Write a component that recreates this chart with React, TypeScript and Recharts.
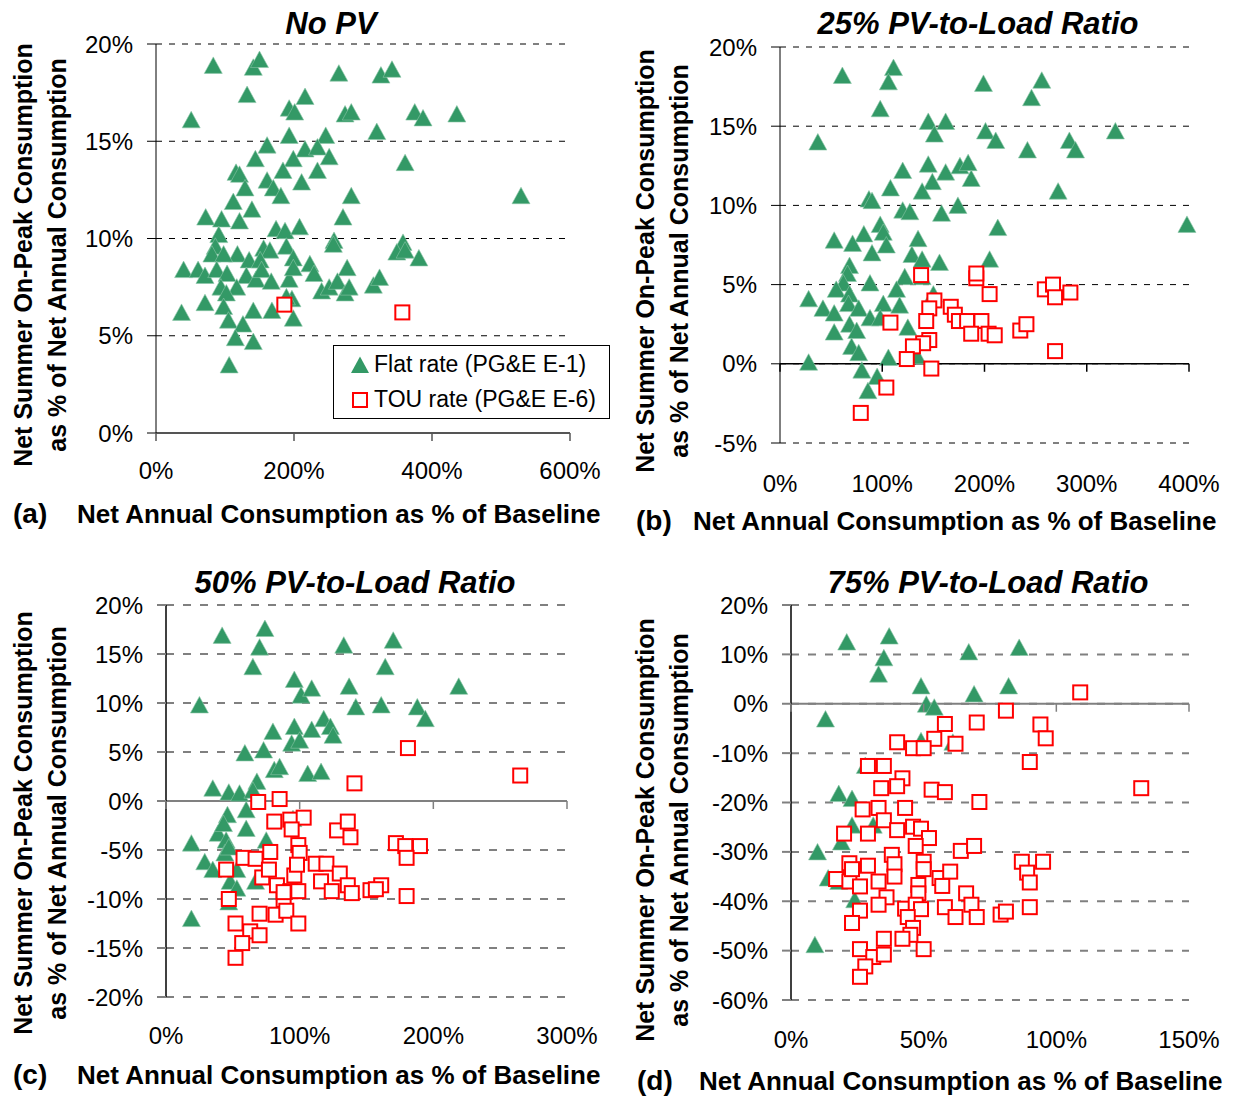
import React from "react";
import {
  ScatterChart,
  Scatter,
  XAxis,
  YAxis,
  CartesianGrid,
  ReferenceLine,
  Legend,
} from "recharts";

const FONT = '"Liberation Sans", Arial, Helvetica, sans-serif';
const FLAT_COLOR = "#339966";
const TOU_COLOR = "#FF0000";
const FLAT_NAME = "Flat rate (PG&E E-1)";
const TOU_NAME = "TOU rate (PG&E E-6)";

type Pt = [number, number];

// [net annual consumption % of baseline, on-peak share %]
const NO_PV_FLAT: Pt[] = [
  [83, 18.9], [141, 18.8], [150, 19.2], [265, 18.5], [132, 17.4], [193, 16.7], [216, 17.3],
  [201, 16.5], [274, 16.4], [283, 16.5], [51, 16.1], [193, 15.3], [246, 15.3], [161, 14.8],
  [216, 14.6], [234, 14.7], [251, 14.2], [144, 14.1], [199, 14.1], [116, 13.4], [121, 13.3],
  [184, 13.5], [234, 13.5], [129, 12.6], [161, 13.0], [170, 12.6], [181, 12.2], [211, 12.9],
  [283, 12.2], [112, 11.9], [139, 11.5], [72, 11.1], [95, 11.0], [121, 10.9], [271, 11.1],
  [174, 10.5], [187, 10.4], [208, 10.6], [91, 10.2], [258, 9.9], [257, 9.7], [86, 9.6],
  [156, 9.5], [165, 9.4], [189, 9.6], [81, 9.2], [118, 9.2], [98, 9.2], [135, 8.9], [151, 8.9],
  [199, 9.0], [40, 8.4], [61, 8.4], [71, 8.1], [88, 8.4], [103, 8.2], [131, 8.1], [145, 7.9],
  [153, 8.4], [167, 7.8], [193, 7.9], [199, 8.5], [223, 8.7], [229, 8.2], [240, 7.3], [251, 7.5],
  [263, 7.8], [274, 7.2], [280, 7.5], [277, 8.5], [94, 7.5], [117, 7.5], [102, 7.2], [37, 6.2],
  [71, 6.7], [98, 6.5], [141, 6.3], [168, 6.3], [197, 6.9], [199, 5.9], [105, 5.8], [126, 5.6],
  [115, 4.9], [141, 4.7], [106, 3.5], [189, 7.0], [326, 18.4], [342, 18.7], [375, 16.5],
  [387, 16.2], [436, 16.4], [320, 15.5], [361, 13.9], [529, 12.2], [358, 9.8], [349, 9.3],
  [361, 9.4], [381, 9.0], [315, 7.6], [324, 8.0],
];
const NO_PV_TOU: Pt[] = [[186, 6.6], [357, 6.2]];

const PV25_FLAT: Pt[] = [
  [61, 18.2], [111, 18.7], [106, 17.8], [98, 16.1], [37, 14.0], [199, 17.7], [145, 15.3],
  [151, 14.5], [162, 15.3], [201, 14.7], [120, 12.2], [145, 12.6], [149, 11.5], [139, 10.9],
  [108, 11.1], [162, 12.1], [176, 12.5], [184, 12.7], [187, 11.7], [87, 10.4], [90, 10.3],
  [120, 9.7], [127, 9.6], [158, 9.5], [174, 10.0], [98, 8.8], [101, 8.3], [104, 7.5], [82, 8.2],
  [53, 7.8], [71, 7.6], [90, 7.0], [135, 7.9], [129, 6.9], [139, 6.6], [156, 6.4], [68, 6.2],
  [66, 5.7], [62, 5.1], [88, 5.1], [122, 5.5], [114, 4.7], [139, 5.5], [55, 4.7], [68, 4.4],
  [28, 4.1], [42, 3.5], [53, 3.2], [67, 3.8], [77, 3.5], [88, 2.9], [101, 3.8], [117, 3.7],
  [150, 4.4], [68, 2.5], [75, 2.1], [53, 2.0], [98, 2.9], [125, 2.3], [70, 1.1], [77, 0.7],
  [106, 0.4], [28, 0.1], [80, -0.4], [95, -0.8], [86, -1.7], [134, 0.5], [256, 17.9], [246, 16.8],
  [211, 14.1], [242, 13.5], [283, 14.1], [289, 13.5], [328, 14.7], [272, 10.9], [213, 8.6],
  [398, 8.8], [205, 6.6],
];
const PV25_TOU: Pt[] = [
  [138, 5.6], [192, 5.4], [192, 5.7], [151, 4.0], [146, 3.5], [167, 3.6], [171, 3.1], [175, 2.7],
  [183, 2.7], [197, 2.7], [187, 1.9], [143, 2.7], [108, 2.6], [146, 1.5], [140, 1.3], [130, 1.1],
  [124, 0.3], [148, -0.3], [104, -1.5], [79, -3.1], [204, 1.9], [205, 4.4], [210, 1.8],
  [235, 2.1], [241, 2.5], [259, 4.7], [267, 5.0], [269, 4.2], [284, 4.5], [269, 0.8],
];

const PV50_FLAT: Pt[] = [
  [42, 16.9], [74, 17.6], [70, 15.7], [65, 13.7], [133, 15.9], [25, 9.8], [96, 12.4], [101, 10.8],
  [109, 11.5], [137, 11.7], [142, 9.6], [80, 7.1], [96, 7.6], [94, 5.9], [100, 6.2], [109, 7.3],
  [118, 8.4], [123, 7.6], [125, 6.7], [59, 4.9], [73, 5.2], [81, 3.2], [85, 3.5], [106, 2.8],
  [116, 3.0], [35, 1.3], [47, 0.9], [55, 0.8], [68, 2.0], [65, 1.1], [46, -1.4], [60, -0.9],
  [39, -3.3], [43, -2.3], [60, -2.8], [19, -4.3], [45, -4.0], [44, -5.3], [29, -6.2], [35, -7.0],
  [53, -7.0], [75, -4.0], [48, -8.2], [53, -8.9], [67, -8.2], [47, -10.3], [19, -12.0],
  [95, -1.8], [47, -4.7], [170, 16.4], [164, 13.7], [219, 11.7], [161, 9.8], [188, 9.6],
  [194, 8.4],
];
const PV50_TOU: Pt[] = [
  [141, 1.8], [69, -0.1], [85, 0.2], [81, -2.1], [93, -1.9], [103, -1.7], [94, -2.9], [128, -3.0],
  [136, -2.1], [138, -3.7], [99, -4.5], [100, -5.3], [78, -5.2], [58, -5.8], [67, -5.9],
  [45, -7.0], [72, -7.8], [83, -8.6], [96, -7.6], [98, -6.5], [112, -6.4], [120, -6.4],
  [116, -8.2], [130, -7.4], [136, -8.6], [139, -9.4], [124, -9.2], [93, -9.2], [99, -9.2],
  [88, -10.1], [47, -10.0], [70, -11.5], [82, -11.6], [90, -11.2], [99, -12.5], [52, -12.5],
  [63, -13.3], [70, -13.7], [57, -14.5], [52, -16.0], [153, -9.1], [77, -7.0], [88, -9.3],
  [181, 5.4], [265, 2.6], [172, -4.3], [179, -4.6], [190, -4.6], [180, -5.8], [161, -8.6],
  [157, -9.0], [180, -9.7],
];

const PV75_FLAT: Pt[] = [
  [21, 12.5], [37, 13.7], [35, 9.3], [33, 6.0], [67, 10.5], [49, 3.6], [69, 2.0], [51, -0.1],
  [54, -0.7], [13, -3.1], [49, -7.5], [61, -7.8], [28, -12.5], [18, -18.2], [23, -19.2],
  [23, -24.6], [31, -24.6], [19, -28.0], [10, -30.0], [14, -35.3], [18, -36.0], [24, -39.7],
  [9, -48.8], [86, 11.4], [82, 3.6],
];
const PV75_TOU: Pt[] = [
  [58, -4.1], [70, -3.8], [54, -7.1], [40, -7.8], [46, -9.0], [50, -9.0], [62, -8.1], [29, -12.6],
  [35, -12.6], [42, -15.1], [40, -16.7], [34, -17.1], [53, -17.4], [58, -17.9], [71, -19.9],
  [27, -21.4], [33, -21.1], [43, -21.1], [35, -23.6], [20, -26.3], [29, -26.3], [40, -25.6],
  [46, -24.9], [49, -25.3], [52, -27.2], [47, -28.8], [64, -29.8], [69, -28.8], [22, -32.3],
  [17, -35.5], [22, -36.0], [29, -32.8], [33, -36.0], [38, -30.6], [39, -32.5], [39, -35.0],
  [50, -32.0], [50, -33.5], [56, -35.3], [60, -34.0], [57, -36.9], [48, -36.7], [48, -38.4],
  [66, -38.4], [36, -39.2], [33, -40.7], [26, -41.9], [23, -44.4], [43, -41.5], [47, -40.7],
  [49, -41.6], [44, -43.2], [58, -41.2], [62, -43.2], [68, -40.7], [70, -43.2], [79, -42.7],
  [46, -45.4], [45, -46.8], [35, -47.6], [42, -47.6], [50, -49.7], [26, -49.7], [31, -51.3],
  [35, -50.8], [28, -53.2], [26, -55.3], [23, -33.5], [26, -37.0], [81, -1.4], [94, -4.2],
  [96, -7.0], [90, -11.8], [109, 2.3], [132, -17.1], [87, -32.0], [95, -32.0], [89, -34.2],
  [90, -36.2], [90, -41.2], [81, -42.1],
];

const X_TICKS_A = [0, 200, 400, 600];
const X_TICKS_B = [0, 100, 200, 300, 400];
const X_TICKS_C = [0, 100, 200, 300];
const X_TICKS_D = [0, 50, 100, 150];
const Y_TICKS_A = [0, 5, 10, 15, 20];
const Y_TICKS_B = [-5, 0, 5, 10, 15, 20];
const Y_TICKS_C = [-20, -15, -10, -5, 0, 5, 10, 15, 20];
const Y_TICKS_D = [-60, -50, -40, -30, -20, -10, 0, 10, 20];

const Y_AXIS_W = 80;
const X_AXIS_H = 40;

const toPoints = (arr: Pt[]) => arr.map(([x, y]) => ({ x, y }));

function FlatMarker(props: any) {
  const { cx, cy } = props;
  if (typeof cx !== "number" || typeof cy !== "number") return <g />;
  return (
    <polygon
      points={`${cx},${cy - 8.5} ${cx + 9},${cy + 8} ${cx - 9},${cy + 8}`}
      fill={FLAT_COLOR}
      stroke="#8cc6a8"
      strokeWidth={0.6}
    />
  );
}

function TouMarker(props: any) {
  const { cx, cy } = props;
  if (typeof cx !== "number" || typeof cy !== "number") return <g />;
  return (
    <rect x={cx - 7} y={cy - 7} width={14} height={14} fill="#fff" stroke={TOU_COLOR} strokeWidth={2} />
  );
}

function LegendBox() {
  const row: React.CSSProperties = { display: "flex", alignItems: "center", height: 35 };
  return (
    <div
      style={{
        width: 277,
        height: 74,
        boxSizing: "border-box",
        border: "1px solid #000",
        background: "#fff",
        fontFamily: FONT,
        fontSize: 23,
        color: "#000",
        paddingTop: 1,
      }}
    >
      <div style={row}>
        <svg width={20} height={20} style={{ marginLeft: 16, marginRight: 4 }}>
          <polygon points="10,1.5 19,18 1,18" fill={FLAT_COLOR} />
        </svg>
        <span>{FLAT_NAME}</span>
      </div>
      <div style={row}>
        <svg width={20} height={20} style={{ marginLeft: 16, marginRight: 4 }}>
          <rect x={3} y={3} width={14} height={14} fill="#fff" stroke={TOU_COLOR} strokeWidth={2} />
        </svg>
        <span>{TOU_NAME}</span>
      </div>
    </div>
  );
}

interface PanelProps {
  box: { x: number; y: number; w: number; h: number };
  plot: { left: number; top: number; right: number; bottom: number };
  xDomain: [number, number];
  xTicks: number[];
  yDomain: [number, number];
  yTicks: number[];
  flat: Pt[];
  tou: Pt[];
  gridColor: string;
  gridWidth: number;
  gridDash: string;
  axisWidth: number;
  zeroColor: string;
  zeroWidth: number;
  xLabelGap: number;
  legend?: boolean;
}

function Panel(p: PanelProps) {
  const { box, plot } = p;
  const plotH = plot.bottom - plot.top;
  // pixel row of the 0% line inside this chart's svg
  const zeroY = plot.top - box.y + (p.yDomain[1] / (p.yDomain[1] - p.yDomain[0])) * plotH;

  const xTick = (props: any) => {
    const { x, y, payload } = props;
    return (
      <g>
        <line x1={x} x2={x} y1={zeroY} y2={zeroY + 8} stroke={p.zeroColor} strokeWidth={1.5} />
        <text x={x} y={y} dy="0.71em" textAnchor="middle" fontSize={24} fontFamily={FONT} fill="#000">
          {`${payload.value}%`}
        </text>
      </g>
    );
  };

  return (
    <div style={{ position: "absolute", left: box.x, top: box.y }}>
      <ScatterChart
        width={box.w}
        height={box.h}
        margin={{
          top: plot.top - box.y,
          right: box.x + box.w - plot.right,
          bottom: box.y + box.h - plot.bottom - X_AXIS_H,
          left: plot.left - box.x - Y_AXIS_W,
        }}
      >
        <CartesianGrid
          vertical={false}
          stroke={p.gridColor}
          strokeWidth={p.gridWidth}
          strokeDasharray={p.gridDash}
        />
        <XAxis
          type="number"
          dataKey="x"
          domain={p.xDomain}
          ticks={p.xTicks}
          interval={0}
          height={X_AXIS_H}
          axisLine={false}
          tickLine={false}
          tickSize={0}
          tickMargin={p.xLabelGap}
          tick={xTick}
        />
        <YAxis
          type="number"
          dataKey="y"
          domain={p.yDomain}
          ticks={p.yTicks}
          interval={0}
          width={Y_AXIS_W}
          axisLine={{ stroke: "#000", strokeWidth: p.axisWidth }}
          tickLine={{ stroke: p.gridColor, strokeWidth: p.gridWidth }}
          tickSize={9}
          tickMargin={14}
          tick={{ fontSize: 24, fill: "#000", fontFamily: FONT }}
          tickFormatter={(v: number) => `${v}%`}
        />
        <ReferenceLine y={0} stroke={p.zeroColor} strokeWidth={p.zeroWidth} />
        {p.legend && (
          <Legend
            layout="vertical"
            align="center"
            verticalAlign="middle"
            content={() => <LegendBox />}
            wrapperStyle={{ left: 333 - box.x, top: 345 - box.y, width: 277, height: 74 }}
          />
        )}
        <Scatter
          name={FLAT_NAME}
          data={toPoints(p.flat)}
          shape={FlatMarker}
          fill={FLAT_COLOR}
          isAnimationActive={false}
        />
        <Scatter
          name={TOU_NAME}
          data={toPoints(p.tou)}
          shape={TouMarker}
          fill={TOU_COLOR}
          isAnimationActive={false}
        />
      </ScatterChart>
    </div>
  );
}

const textBase: React.CSSProperties = {
  position: "absolute",
  fontFamily: FONT,
  color: "#000",
  whiteSpace: "nowrap",
};

function ChartTitle({ text, cx, cy }: { text: string; cx: number; cy: number }) {
  return (
    <div
      style={{
        ...textBase,
        left: cx,
        top: cy,
        transform: "translate(-50%, -50%)",
        fontSize: 31,
        fontWeight: "bold",
        fontStyle: "italic",
        lineHeight: "36px",
      }}
    >
      {text}
    </div>
  );
}

function YTitle({ cx, cy }: { cx: number; cy: number }) {
  return (
    <div
      style={{
        ...textBase,
        left: cx,
        top: cy,
        transform: "translate(-50%, -50%) rotate(-90deg)",
        fontSize: 25,
        fontWeight: "bold",
        lineHeight: "34px",
        textAlign: "center",
      }}
    >
      Net Summer On-Peak Consumption
      <br />
      as % of Net Annual Consumption
    </div>
  );
}

function XTitle({ tag, tagX, x, cy }: { tag: string; tagX: number; x: number; cy: number }) {
  return (
    <>
      <div style={{ ...textBase, left: tagX, top: cy - 17, fontSize: 28, fontWeight: "bold", lineHeight: "34px" }}>
        {tag}
      </div>
      <div style={{ ...textBase, left: x, top: cy - 15, fontSize: 26, fontWeight: "bold", lineHeight: "30px" }}>
        Net Annual Consumption as % of Baseline
      </div>
    </>
  );
}

export default function App() {
  return (
    <div style={{ position: "absolute", left: 0, top: 0, width: 1233, height: 1097, background: "#fff" }}>
      <Panel
        box={{ x: 0, y: 0, w: 616, h: 545 }}
        plot={{ left: 156, top: 44, right: 570, bottom: 433 }}
        xDomain={[0, 600]}
        xTicks={X_TICKS_A}
        yDomain={[0, 20]}
        yTicks={Y_TICKS_A}
        flat={NO_PV_FLAT}
        tou={NO_PV_TOU}
        gridColor="#000"
        gridWidth={1}
        gridDash="6 7"
        axisWidth={1}
        zeroColor="#555"
        zeroWidth={2}
        xLabelGap={29}
        legend
      />
      <Panel
        box={{ x: 616, y: 0, w: 617, h: 545 }}
        plot={{ left: 780, top: 47, right: 1189, bottom: 443 }}
        xDomain={[0, 400]}
        xTicks={X_TICKS_B}
        yDomain={[-5, 20]}
        yTicks={Y_TICKS_B}
        flat={PV25_FLAT}
        tou={PV25_TOU}
        gridColor="#000"
        gridWidth={1}
        gridDash="6 7"
        axisWidth={1}
        zeroColor="#000"
        zeroWidth={1.5}
        xLabelGap={32}
      />
      <Panel
        box={{ x: 0, y: 545, w: 616, h: 552 }}
        plot={{ left: 166, top: 605, right: 567, bottom: 997 }}
        xDomain={[0, 300]}
        xTicks={X_TICKS_C}
        yDomain={[-20, 20]}
        yTicks={Y_TICKS_C}
        flat={PV50_FLAT}
        tou={PV50_TOU}
        gridColor="#808080"
        gridWidth={2}
        gridDash="8 9"
        axisWidth={1.5}
        zeroColor="#808080"
        zeroWidth={2}
        xLabelGap={30}
      />
      <Panel
        box={{ x: 616, y: 545, w: 617, h: 552 }}
        plot={{ left: 791, top: 605, right: 1189, bottom: 1000 }}
        xDomain={[0, 150]}
        xTicks={X_TICKS_D}
        yDomain={[-60, 20]}
        yTicks={Y_TICKS_D}
        flat={PV75_FLAT}
        tou={PV75_TOU}
        gridColor="#808080"
        gridWidth={2}
        gridDash="8 9"
        axisWidth={1.5}
        zeroColor="#808080"
        zeroWidth={2}
        xLabelGap={31}
      />

      <ChartTitle text="No PV" cx={331} cy={24} />
      <ChartTitle text="25% PV-to-Load Ratio" cx={978} cy={24} />
      <ChartTitle text="50% PV-to-Load Ratio" cx={355} cy={583} />
      <ChartTitle text="75% PV-to-Load Ratio" cx={988} cy={583} />

      <YTitle cx={40} cy={255} />
      <YTitle cx={662} cy={261} />
      <YTitle cx={40} cy={823} />
      <YTitle cx={662} cy={830} />

      <XTitle tag="(a)" tagX={13} x={77} cy={514} />
      <XTitle tag="(b)" tagX={636} x={693} cy={521} />
      <XTitle tag="(c)" tagX={13} x={77} cy={1075} />
      <XTitle tag="(d)" tagX={637} x={699} cy={1081} />
    </div>
  );
}
